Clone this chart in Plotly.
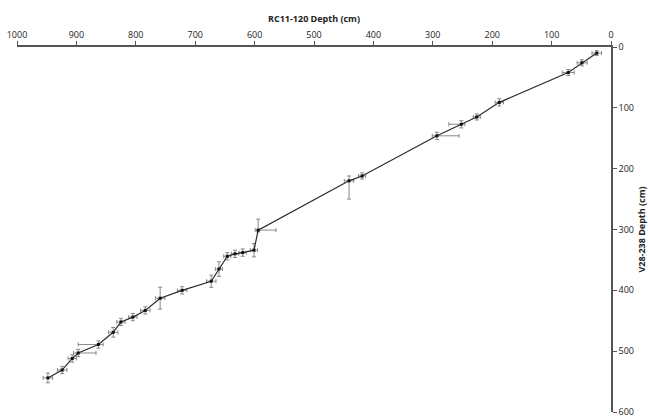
import plotly.graph_objects as go

# RC11-120 depth (x) vs V28-238 depth (y), in cm
rc_depth = [24, 49, 72, 188, 226, 252, 293, 419, 441, 594, 601, 620, 633, 646, 660, 673,
            722, 759, 784, 805, 825, 838, 863, 897, 907, 924, 948]
v28_depth = [10, 26, 42, 91, 115, 127, 146, 212, 220, 301, 334, 338, 340, 344, 365, 385,
             400, 413, 433, 444, 452, 469, 489, 503, 512, 531, 544]

# error bars (cm)
rc_err_plus = [8, 8, 10, 7, 6, 21, 8, 6, 8, 5, 6, 6, 6, 6, 6, 8,
               8, 8, 8, 7, 7, 8, 34, 8, 7, 8, 8]
rc_err_minus = [8, 9, 10, 7, 6, 6, 37, 6, 8, 30, 6, 6, 6, 6, 6, 8,
                8, 8, 8, 7, 7, 8, 8, 30, 7, 8, 8]
v28_err_plus = [4, 5, 5, 6, 5, 6, 6, 5, 30, 3, 11, 6, 6, 6, 12, 10,
                6, 18, 6, 6, 6, 8, 6, 6, 6, 6, 8]
v28_err_minus = [4, 5, 5, 6, 5, 6, 6, 5, 8, 18, 11, 6, 6, 6, 12, 10,
                 6, 18, 6, 6, 6, 8, 6, 6, 6, 6, 8]

x_ticks = list(range(0, 1001, 100))
y_ticks = list(range(0, 601, 100))

fig = go.Figure()
fig.add_trace(go.Scatter(
    x=rc_depth, y=v28_depth, mode="lines+markers",
    line=dict(color="#2b2b2b", width=1.2),
    marker=dict(symbol="square", size=3, color="#111"),
    error_x=dict(type="data", symmetric=False, array=rc_err_plus, arrayminus=rc_err_minus,
                 color="#888", thickness=1, width=2),
    error_y=dict(type="data", symmetric=False, array=v28_err_plus, arrayminus=v28_err_minus,
                 color="#888", thickness=1, width=2),
    showlegend=False,
))

font_family = "Open Sans, Liberation Sans, sans-serif"
fig.update_layout(
    width=650, height=417,
    margin=dict(l=17, r=39, t=47, b=5),
    paper_bgcolor="white", plot_bgcolor="white",
    font=dict(family=font_family, size=9, color="#222"),
    xaxis=dict(
        side="top", range=[1000, 0], tickvals=x_ticks, ticktext=[str(v) for v in x_ticks],
        showgrid=False, zeroline=False, showline=True, linecolor="#555", linewidth=1.5,
        ticks="outside", ticklen=4, tickcolor="#555", tickfont=dict(size=9), automargin=False,
        ticklabeloverflow="allow",
        title=dict(text="<b>RC11-120 Depth (cm)</b>", font=dict(size=9), standoff=4),
    ),
    yaxis=dict(
        side="right", range=[600, 0], tickvals=y_ticks, ticktext=[str(v) for v in y_ticks],
        showgrid=False, zeroline=False, showline=True, linecolor="#555", linewidth=1.5,
        ticks="outside", ticklen=4, tickcolor="#555", tickfont=dict(size=9), automargin=False,
        ticklabeloverflow="allow",
        title=dict(text="<b>V28-238 Depth (cm)</b>", font=dict(size=9), standoff=6),
    ),
)

fig.write_html("out.html")
